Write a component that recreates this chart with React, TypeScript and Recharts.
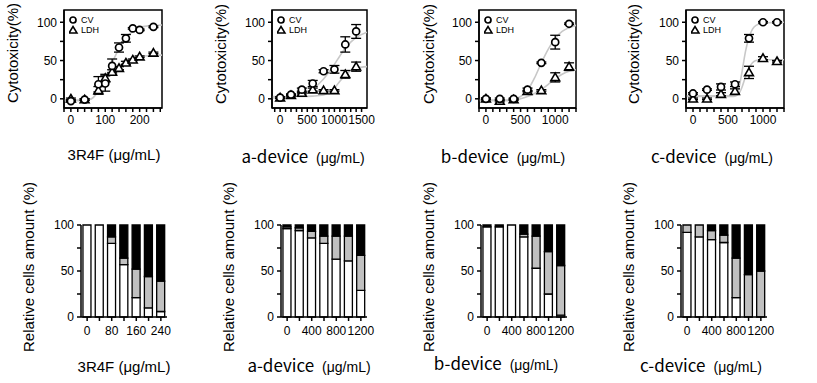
import React from 'react';
import { ComposedChart, BarChart, Bar, Line, Scatter, ErrorBar, XAxis, YAxis, ReferenceArea } from 'recharts';

// ---- top row: cytotoxicity (CV / LDH) with fitted curves ----
const r4fDose = [0, 40, 80, 100, 120, 140, 160, 180, 200, 240];
const r4fCv = [-3, -1, 19, 20, 43, 67, 79, 92, 90, 94];
const r4fCvErr = [1, 1, 10, 10, 9, 6, 5, 1, 1, 1];
const r4fLdh = [0, -1, 11, 27, 35, 40, 47, 51, 55, 60];
const r4fLdhErr = [1, 1, 5, 5, 3, 2, 2, 1, 1, 1];
const r4fFitX = [-20, 40, 60, 80, 100, 120, 140, 160, 180, 200, 230, 265];
const r4fCvFit = [-2, -2, 0, 10, 27, 47, 66, 80, 88, 93, 95.5, 96.5];
const r4fLdhFit = [-2, -2, 0, 11, 24, 35, 43, 49, 53, 55, 56.5, 57];

const aDose = [0, 200, 400, 600, 800, 1000, 1200, 1400];
const aCv = [1.5, 5.5, 12, 20, 36, 38.5, 71, 88];
const aCvErr = [1, 1, 2, 4, 2, 5, 10, 9];
const aLdh = [1.5, 4.5, 7.5, 12, 11, 11, 32, 42];
const aLdhErr = [1, 1, 1, 2, 1, 1, 5, 6];
const aFitX = [-150, 0, 200, 400, 600, 800, 900, 1000, 1100, 1200, 1300, 1400, 1600];
const aCvFit = [1, 1.5, 3, 6, 13, 26, 35, 45, 56, 66, 74, 80, 87];
const aLdhFit = [3, 3, 3, 3, 3.5, 5, 8, 14, 23, 31, 37, 40, 42];

const bDose = [0, 200, 400, 600, 800, 1000, 1200];
const bCv = [0, 0, 0, 12, 47, 74, 98];
const bCvErr = [1, 1, 1, 2, 1, 9, 1];
const bLdh = [0, -3, -1, 10, 11, 28, 42];
const bLdhErr = [1, 1, 1, 1, 1, 6, 5];
const bFitX = [-100, 300, 400, 500, 600, 700, 800, 900, 1000, 1100, 1200, 1300];
const bCvFit = [-2, -2, -1, 3, 11, 27, 47, 65, 79, 88, 93, 96];
const bLdhFit = [-2, -2, -2, 0, 3, 7, 12, 19, 26, 32, 36, 38];

const cDose = [0, 200, 400, 600, 800, 1000, 1200];
const cCv = [7, 12, 15.5, 19, 79, 100, 100];
const cCvErr = [1, 1, 4, 3, 5, 1, 1];
const cLdh = [0, 0, 6, 10, 34.5, 53, 49];
const cLdhErr = [1, 1, 2, 3, 8, 2, 1];
const cFitX = [-100, 550, 600, 650, 700, 750, 800, 850, 900, 1000, 1300];
const cCvFit = [4, 4, 5, 12, 35, 62, 80, 91, 96, 99, 100];
const cLdhFit = [3, 3, 3.5, 6, 15, 29, 40, 47, 50, 51, 51];

// ---- bottom row: relative cell amounts (stacked) ----
const r4fCats = ['0', '40', '80', '120', '160', '200', '240'];
const devCats = ['0', '200', '400', '600', '800', '1000', '1200'];
const r4fWhite = [100, 100, 80, 57, 21, 10, 6];
const r4fGray = [0, 0, 7, 7, 31, 34, 33];
const r4fBlack = [0, 0, 13, 36, 48, 56, 61];
const aWhite = [96, 94, 86, 80, 63, 61, 29];
const aGray = [2, 3, 7, 8, 25, 27, 38];
const aBlack = [2, 3, 7, 12, 12, 12, 33];
const bWhite = [98, 98, 100, 87, 53, 25, 2];
const bGray = [0, 0, 0, 3, 35, 46, 54];
const bBlack = [2, 2, 0, 10, 12, 29, 44];
const cWhite = [92, 87, 84, 81, 21, 0, 0];
const cGray = [8, 13, 10, 8, 43, 46, 50];
const cBlack = [0, 0, 6, 11, 36, 54, 50];

const FONT = '"Liberation Sans", Arial, sans-serif';
const AXW = 40;
const tickStyle = { fill: '#000', fontSize: 12, fontFamily: FONT };
const lineStyle = { stroke: '#000', strokeWidth: 1.5 };

const pts = (xs: number[], ys: number[], es?: number[]) =>
  xs.map((x, i) => ({ x, y: ys[i], e: es ? es[i] : 0 }));

const circleShape = (p: any) => (
  <circle cx={p.cx} cy={p.cy} r={3.5} fill="#fff" stroke="#000" strokeWidth={1.7} />
);
const triShape = (p: any) => (
  <path
    d={`M${p.cx},${p.cy - 4.3}L${p.cx + 4.4},${p.cy + 3.2}L${p.cx - 4.4},${p.cy + 3.2}Z`}
    fill="#fff"
    stroke="#000"
    strokeWidth={1.6}
  />
);

const Y_DOM: [number, number] = [-12, 116];

function CytoPanel(props: {
  x0: number; x1: number; dom: [number, number]; ticks: number[]; labels: number[];
  dose: number[]; cv: number[]; cvErr: number[]; ldh: number[]; ldhErr: number[];
  fitX: number[]; cvFit: number[]; ldhFit: number[];
}) {
  const { x0, x1, dom, ticks, labels } = props;
  const mTop = 5, mRight = 20, plotH = 98;
  return (
    <div style={{ position: 'absolute', left: x0 - AXW, top: 10 - mTop }}>
      <ComposedChart width={AXW + (x1 - x0) + mRight} height={mTop + plotH + 30}
        margin={{ top: mTop, right: mRight, bottom: 0, left: 0 }}>
        <XAxis type="number" dataKey="x" domain={dom} allowDataOverflow ticks={ticks} interval={0}
          tickFormatter={(v: number) => (labels.includes(v) ? String(v) : '')}
          tickSize={4} tickMargin={3} height={30} axisLine={lineStyle} tickLine={lineStyle} tick={tickStyle} />
        <YAxis type="number" domain={Y_DOM} allowDataOverflow ticks={[0, 25, 50, 75, 100]} interval={0}
          tickFormatter={(v: number) => (v % 50 === 0 ? String(v) : '')}
          width={AXW} tickSize={4} tickMargin={3} axisLine={lineStyle} tickLine={lineStyle} tick={tickStyle} />
        <ReferenceArea x1={dom[0]} x2={dom[1]} y1={Y_DOM[0]} y2={Y_DOM[1]} fill="none" fillOpacity={0}
          stroke="#000" strokeWidth={1.5} />
        <Line data={pts(props.fitX, props.ldhFit)} dataKey="y" type="monotone" stroke="#c8c8c8"
          strokeWidth={1.6} dot={false} isAnimationActive={false} />
        <Line data={pts(props.fitX, props.cvFit)} dataKey="y" type="monotone" stroke="#c8c8c8"
          strokeWidth={1.6} dot={false} isAnimationActive={false} />
        <Scatter data={pts(props.dose, props.ldh, props.ldhErr)} dataKey="y" shape={triShape} isAnimationActive={false}>
          <ErrorBar dataKey="e" direction="y" width={5} stroke="#000" strokeWidth={1.3} />
        </Scatter>
        <Scatter data={pts(props.dose, props.cv, props.cvErr)} dataKey="y" shape={circleShape} isAnimationActive={false}>
          <ErrorBar dataKey="e" direction="y" width={5} stroke="#000" strokeWidth={1.3} />
        </Scatter>
      </ComposedChart>
      <div style={{ position: 'absolute', left: AXW + 5, top: 10, fontFamily: FONT, fontSize: 9, lineHeight: '10px', color: '#000' }}>
        <div style={{ display: 'flex', alignItems: 'center' }}>
          <svg width={10} height={10}><circle cx={4} cy={5} r={3} fill="#fff" stroke="#000" strokeWidth={1.7} /></svg>
          <span style={{ marginLeft: 2 }}>CV</span>
        </div>
        <div style={{ display: 'flex', alignItems: 'center' }}>
          <svg width={10} height={10}><path d="M4,1.5L8,8L0,8Z" fill="#fff" stroke="#000" strokeWidth={1.5} /></svg>
          <span style={{ marginLeft: 2 }}>LDH</span>
        </div>
      </div>
    </div>
  );
}

function CellPanel(props: { x0: number; cats: string[]; labels: string[]; white: number[]; gray: number[]; black: number[] }) {
  const { x0, cats, labels } = props;
  const mTop = 12, mRight = 20, plotH = 92, plotW = 86;
  const data = cats.map((c, i) => ({ c, w: props.white[i], g: props.gray[i], b: props.black[i] }));
  return (
    <div style={{ position: 'absolute', left: x0 - AXW, top: 225 - mTop }}>
      <BarChart width={AXW + plotW + mRight} height={mTop + plotH + 30} data={data}
        margin={{ top: mTop, right: mRight, bottom: 0, left: 0 }} barCategoryGap="16%">
        <XAxis dataKey="c" interval={0} tickFormatter={(v: string) => (labels.includes(v) ? v : '')}
          tickSize={4} tickMargin={5} height={30} axisLine={lineStyle} tickLine={lineStyle} tick={tickStyle} />
        <YAxis type="number" domain={[0, 100]} ticks={[0, 25, 50, 75, 100]} interval={0}
          tickFormatter={(v: number) => (v % 50 === 0 ? String(v) : '')}
          width={AXW} tickSize={4} tickMargin={3} axisLine={lineStyle} tickLine={lineStyle} tick={tickStyle} />
        <Bar dataKey="w" stackId="s" fill="#fff" stroke="#000" strokeWidth={1.3} isAnimationActive={false} />
        <Bar dataKey="g" stackId="s" fill="#c0c0c0" stroke="#000" strokeWidth={1.3} isAnimationActive={false} />
        <Bar dataKey="b" stackId="s" fill="#000" stroke="#000" strokeWidth={1.3} isAnimationActive={false} />
      </BarChart>
    </div>
  );
}

const YTitle = ({ x, y, text }: { x: number; y: number; text: string }) => (
  <div style={{ position: 'absolute', left: x, top: y, transform: 'translate(-50%, -50%) rotate(-90deg)',
    whiteSpace: 'nowrap', fontFamily: FONT, fontSize: 15, color: '#000' }}>{text}</div>
);

const XTitle = ({ x, y, name, big }: { x: number; y: number; name: string; big?: boolean }) => (
  <div style={{ position: 'absolute', left: x, top: y, transform: 'translate(-50%, -50%)',
    whiteSpace: 'nowrap', color: '#000' }}>
    {big ? (
      <>
        <span style={{ fontFamily: '"Noto Sans CJK KR", "Noto Sans", sans-serif', fontSize: 17 }}>{name}</span>
        <span style={{ fontFamily: FONT, fontSize: 14, marginLeft: 8 }}>(μg/mL)</span>
      </>
    ) : (
      <span style={{ fontFamily: FONT, fontSize: 15 }}>{name} (μg/mL)</span>
    )}
  </div>
);

const range = (a: number, b: number, s: number) => {
  const out: number[] = [];
  for (let v = a; v <= b; v += s) out.push(v);
  return out;
};

export default function App() {
  return (
    <div style={{ position: 'absolute', left: 0, top: 0, width: 817, height: 383, background: '#fff', overflow: 'hidden' }}>
      <CytoPanel x0={64} x1={162} dom={[-20, 265]} ticks={range(-20, 260, 20)} labels={[0, 100, 200]}
        dose={r4fDose} cv={r4fCv} cvErr={r4fCvErr} ldh={r4fLdh} ldhErr={r4fLdhErr}
        fitX={r4fFitX} cvFit={r4fCvFit} ldhFit={r4fLdhFit} />
      <CytoPanel x0={272} x1={367} dom={[-150, 1600]} ticks={range(-100, 1500, 100)} labels={[0, 500, 1000, 1500]}
        dose={aDose} cv={aCv} cvErr={aCvErr} ldh={aLdh} ldhErr={aLdhErr}
        fitX={aFitX} cvFit={aCvFit} ldhFit={aLdhFit} />
      <CytoPanel x0={479} x1={576} dom={[-100, 1300]} ticks={range(-100, 1300, 100)} labels={[0, 500, 1000]}
        dose={bDose} cv={bCv} cvErr={bCvErr} ldh={bLdh} ldhErr={bLdhErr}
        fitX={bFitX} cvFit={bCvFit} ldhFit={bLdhFit} />
      <CytoPanel x0={686} x1={784} dom={[-100, 1300]} ticks={range(-100, 1300, 100)} labels={[0, 500, 1000]}
        dose={cDose} cv={cCv} cvErr={cCvErr} ldh={cLdh} ldhErr={cLdhErr}
        fitX={cFitX} cvFit={cCvFit} ldhFit={cLdhFit} />

      <CellPanel x0={81} cats={r4fCats} labels={['0', '80', '160', '240']} white={r4fWhite} gray={r4fGray} black={r4fBlack} />
      <CellPanel x0={281} cats={devCats} labels={['0', '400', '800', '1200']} white={aWhite} gray={aGray} black={aBlack} />
      <CellPanel x0={481} cats={devCats} labels={['0', '400', '800', '1200']} white={bWhite} gray={bGray} black={bBlack} />
      <CellPanel x0={681} cats={devCats} labels={['0', '400', '800', '1200']} white={cWhite} gray={cGray} black={cBlack} />

      <YTitle x={12} y={53} text="Cytotoxicity(%)" />
      <YTitle x={220} y={54} text="Cytotoxicity(%)" />
      <YTitle x={428} y={54} text="Cytotoxicity(%)" />
      <YTitle x={633} y={54} text="Cytotoxicity(%)" />
      <YTitle x={28} y={267} text="Relative cells amount (%)" />
      <YTitle x={228} y={267} text="Relative cells amount (%)" />
      <YTitle x={428} y={267} text="Relative cells amount (%)" />
      <YTitle x={628} y={267} text="Relative cells amount (%)" />

      <XTitle x={114} y={155} name="3R4F" />
      <XTitle x={303} y={155} name="a-device" big />
      <XTitle x={503} y={155} name="b-device" big />
      <XTitle x={712} y={155} name="c-device" big />
      <XTitle x={124} y={367} name="3R4F" />
      <XTitle x={309} y={364} name="a-device" big />
      <XTitle x={496} y={362} name="b-device" big />
      <XTitle x={701} y={364} name="c-device" big />
    </div>
  );
}
